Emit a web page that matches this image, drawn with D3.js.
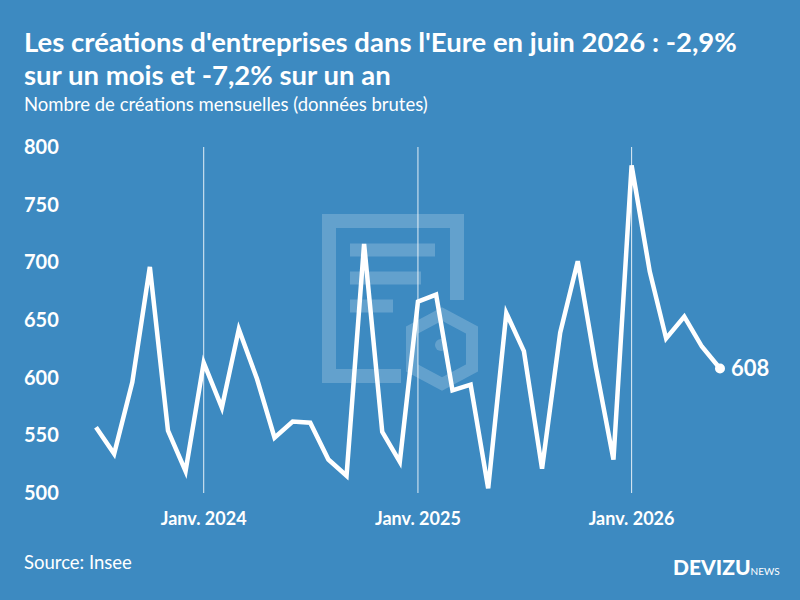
<!DOCTYPE html>
<html><head><meta charset="utf-8">
<script src="https://cdn.jsdelivr.net/npm/d3@7"></script>
<style>body{margin:0}svg{display:block}text{font-family:Lato,"Open Sans",sans-serif}</style>
</head><body><svg id="c" width="800" height="600"></svg>
<script>
const values = [557,534,596,696,554,519,613,574,642,599,548,562,561,529,515,716,553,527,
  666,672,589,594,504,656,623,521,639,701,609,529,784,692,634,653,627,608];
const startMonth = new Date(2023, 6, 1);
const yTicks = [500,550,600,650,700,750,800];
const xTicks = [new Date(2024,0,1), new Date(2025,0,1), new Date(2026,0,1)];
const xTickLabels = ["Janv. 2024","Janv. 2025","Janv. 2026"];

const data = values.map((v,i)=>({d:new Date(2023, 6+i, 1), v}));
const svg = d3.select("#c");
svg.append("rect").attr("width",800).attr("height",600).attr("fill","#3d8ac1");

const x = d3.scaleTime().domain([startMonth, new Date(2026,5,1)]).range([96,720]);
const y = d3.scaleLinear().domain([500,800]).range([493,147]);

// watermark
const wm = svg.append("g").attr("fill","none").attr("stroke","#ffffff").attr("stroke-opacity",0.2);
wm.append("path").attr("d","M401,376 L329,376 L329,221 L457,221 L457,300").attr("stroke-width",14);
wm.append("g").attr("stroke-width",13).selectAll("line").data([250,278,306]).join("line")
  .attr("x1",350).attr("x2",(d,i)=>[435,421,393][i]).attr("y1",d=>d).attr("y2",d=>d);
wm.append("path").attr("d","M442,314 L472,330 L472,368 L442,384 L412,368 L412,330 Z").attr("stroke-width",12);
wm.append("circle").attr("cx",441).attr("cy",345).attr("r",6).attr("fill","#fff").attr("fill-opacity",0.2).attr("stroke","none");

svg.append("g").selectAll("line").data(xTicks).join("line")
  .attr("x1",d=>x(d)).attr("x2",d=>x(d)).attr("y1",147).attr("y2",493)
  .attr("stroke","#fff").attr("stroke-opacity",0.85).attr("stroke-width",1);

svg.append("g").selectAll("text").data(yTicks).join("text")
  .attr("x",24).attr("y",d=>y(d)+7).text(d=>d)
  .attr("fill","#fff").attr("font-size",20).attr("font-weight",700);
svg.append("g").selectAll("text").data(xTicks).join("text")
  .attr("x",d=>x(d)).attr("y",525).attr("text-anchor","middle").text((d,i)=>xTickLabels[i])
  .attr("fill","#fff").attr("font-size",18).attr("font-weight",700);

svg.append("path").datum(data)
  .attr("d",d3.line().x(d=>x(d.d)).y(d=>y(d.v)))
  .attr("fill","none").attr("stroke","#fff").attr("stroke-width",4.5).attr("stroke-linejoin","miter");
const last = data[data.length-1];
svg.append("circle").attr("cx",x(last.d)).attr("cy",y(last.v)).attr("r",5).attr("fill","#fff");
svg.append("text").attr("x",x(last.d)+11).attr("y",y(last.v)+8).text(last.v)
  .attr("fill","#fff").attr("font-size",22).attr("font-weight",700);

svg.append("text").attr("x",24).attr("y",52).text("Les créations d'entreprises dans l'Eure en juin 2026 : -2,9%")
  .attr("fill","#fff").attr("font-size",27.5).attr("font-weight",700);
svg.append("text").attr("x",24).attr("y",85).text("sur un mois et -7,2% sur un an")
  .attr("fill","#fff").attr("font-size",27.5).attr("font-weight",700);
svg.append("text").attr("x",24).attr("y",111).text("Nombre de créations mensuelles (données brutes)")
  .attr("fill","#fff").attr("font-size",18.5);
svg.append("text").attr("x",24).attr("y",569).text("Source: Insee")
  .attr("fill","#fff").attr("font-size",18.5);
const logo = svg.append("text").attr("x",673).attr("y",575).attr("fill","#fff");
logo.append("tspan").text("DEVIZU").attr("font-size",21).attr("font-weight",900);
logo.append("tspan").text("NEWS").attr("font-size",10);
</script></body></html>
